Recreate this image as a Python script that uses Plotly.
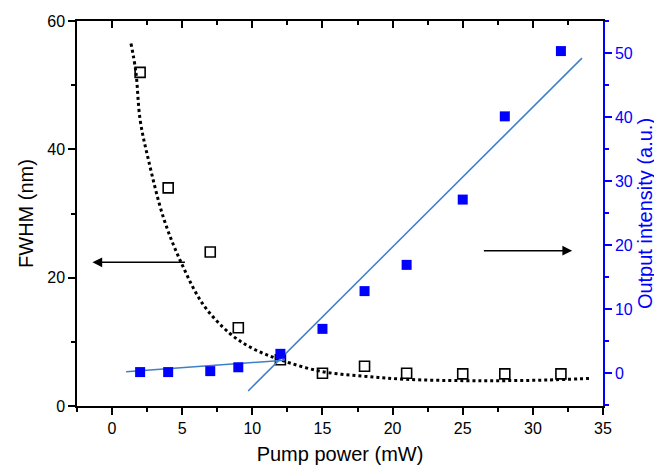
import plotly.graph_objects as go

# Data
pump = [2, 4, 7, 9, 12, 15, 18, 21, 25, 28, 32]
fwhm = [52, 34, 24, 12.2, 7.2, 5.1, 6.2, 5.1, 5.0, 5.0, 5.0]
intensity = [0.15, 0.15, 0.3, 0.9, 3.0, 6.9, 12.8, 16.9, 27.1, 40.1, 50.3]

fit_x = [1.35, 1.7, 2.0, 2.6, 3.7, 5.0, 6.5, 8.4, 10, 12, 15, 18, 21, 25, 28, 31, 34]
fit_y = [56.5, 52.0, 44.6, 38.3, 29.1, 22.0, 15.8, 11.3, 9.0, 7.2, 5.35, 4.65, 4.15, 3.95, 3.95, 4.05, 4.3]

low_line_x = [1.0, 12.3]
low_line_y = [0.2, 2.0]
high_line_x = [9.7, 33.5]
high_line_y = [-2.8, 49.2]

FONT = "Liberation Sans, Arial, sans-serif"
LINEC = "#3F7FC6"
BLUE = "#0000FF"

fig = go.Figure()
fig.add_trace(go.Scatter(x=fit_x, y=fit_y, mode="lines", line=dict(color="black", width=3, dash="dot", shape="spline"),
                         xaxis="x", yaxis="y", showlegend=False))
fig.add_trace(go.Scatter(x=pump, y=fwhm, mode="markers",
                         marker=dict(symbol="square-open", size=10, color="black", line=dict(width=1.6)),
                         xaxis="x", yaxis="y", showlegend=False))
fig.add_trace(go.Scatter(x=low_line_x, y=low_line_y, mode="lines", line=dict(color=LINEC, width=1.5),
                         xaxis="x", yaxis="y2", showlegend=False))
fig.add_trace(go.Scatter(x=high_line_x, y=high_line_y, mode="lines", line=dict(color=LINEC, width=1.5),
                         xaxis="x", yaxis="y2", showlegend=False))
fig.add_trace(go.Scatter(x=pump, y=intensity, mode="markers",
                         marker=dict(symbol="square", size=10, color=BLUE),
                         xaxis="x", yaxis="y2", showlegend=False))
# invisible trace for top axis
fig.add_trace(go.Scatter(x=[0], y=[0], mode="markers", marker=dict(opacity=0), xaxis="x2", yaxis="y",
                         showlegend=False, hoverinfo="skip"))

xr = [-2.5, 35]
# page body has an 8px default margin; size the figure so it fits the 662x465 window
fig.update_layout(
    template="none",
    width=654, height=457,
    margin=dict(l=69, r=59, t=13, b=59),
    plot_bgcolor="white", paper_bgcolor="white",
    font=dict(family=FONT, size=16, color="black"),
    xaxis=dict(range=xr, tick0=0, dtick=5, ticks="outside", ticklen=7, tickwidth=1.5, tickcolor="black",
               minor=dict(ticks="outside", dtick=2.5, ticklen=4, tickwidth=1.5, tickcolor="black"),
               showline=True, linecolor="black", linewidth=1.5, showgrid=False, zeroline=False,
               automargin=False,
               title=dict(text="Pump power (mW)", font=dict(size=20), standoff=14)),
    xaxis2=dict(range=xr, overlaying="x", side="top", anchor="y", tick0=0, dtick=5, ticks="inside",
                ticklen=7, tickwidth=1.5, tickcolor="black",
                minor=dict(ticks="inside", dtick=2.5, ticklen=4, tickwidth=1.5, tickcolor="black"),
                showline=True, linecolor="black", linewidth=1.5, showgrid=False, zeroline=False,
                showticklabels=False, automargin=False),
    yaxis=dict(range=[0, 60], tick0=0, dtick=20, ticks="outside", ticklen=7, tickwidth=1.5, tickcolor="black",
               minor=dict(ticks="outside", dtick=10, ticklen=4, tickwidth=1.5, tickcolor="black"),
               showline=True, linecolor="black", linewidth=1.5, showgrid=False, zeroline=False,
               automargin=False,
               title=dict(text="FWHM (nm)", font=dict(size=20), standoff=8)),
    yaxis2=dict(range=[-5.15, 55], overlaying="y", side="right", anchor="x", tick0=0, dtick=10,
                ticks="outside", ticklen=7, tickwidth=1.5, tickcolor=BLUE,
                minor=dict(ticks="outside", dtick=5, ticklen=4, tickwidth=1.5, tickcolor=BLUE),
                showline=True, linecolor=BLUE, linewidth=1.5, showgrid=False, zeroline=False,
                tickfont=dict(color=BLUE), automargin=False,
                title=dict(text="Output intensity (a.u.)", font=dict(size=20, color=BLUE), standoff=6)),
)

fig.add_annotation(x=-1.4, y=22.4, ax=5.3, ay=22.4, xref="x", yref="y", axref="x", ayref="y",
                   showarrow=True, arrowhead=2, arrowsize=1.3, arrowwidth=1.5, arrowcolor="black", text="")
fig.add_annotation(x=32.8, y=24.2, ax=26.4, ay=24.2, xref="x", yref="y", axref="x", ayref="y",
                   showarrow=True, arrowhead=2, arrowsize=1.3, arrowwidth=1.5, arrowcolor="black", text="")

fig.write_html("out.html")
